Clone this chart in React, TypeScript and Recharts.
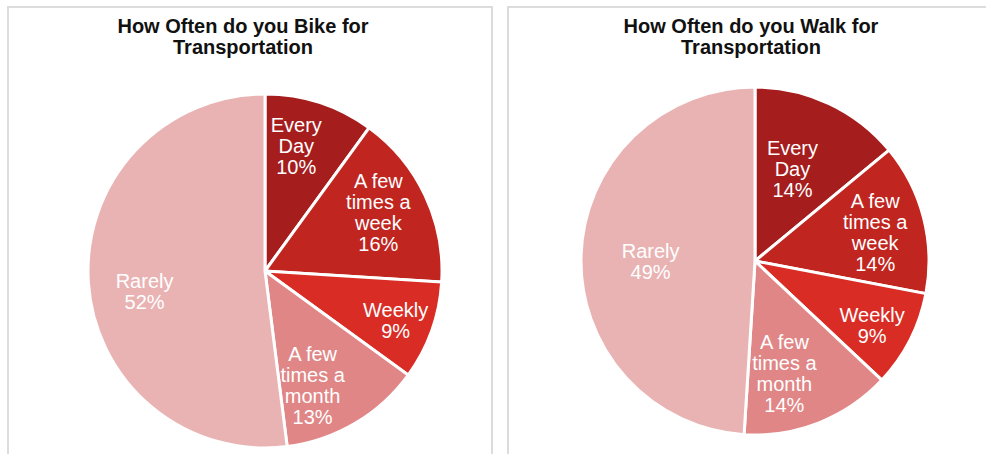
import { PieChart, Pie, Cell } from 'recharts'

const CATEGORIES = ['Every\nDay', 'A few\ntimes a\nweek', 'Weekly', 'A few\ntimes a\nmonth', 'Rarely']
const BIKE_VALUES = [10, 16, 9, 13, 52]
const WALK_VALUES = [14, 14, 9, 14, 49]

const COLORS = ['#a51d1d', '#c0251f', '#d92c25', '#e08686', '#e9b3b3']

// label placement tweaks per slice: [radius ratio, angle shift in degrees (clockwise)]
const BIKE_LABEL_POS = [[0.73, -4], [0.72, -2], [0.79, 1], [0.70, 8], [0.69, -6]]
const WALK_LABEL_POS = [[0.57, -3], [0.71, 1], [0.77, 2], [0.67, 7], [0.6, -2]]

const RADIAN = Math.PI / 180
const FONT = '"Liberation Sans", Arial, sans-serif'

function makeLabel(tweaks: number[][]) {
       return (props: any) => {
              const { cx, cy, midAngle, outerRadius, index, payload } = props
              const [ratio, shift] = tweaks[index]
              const ang = (midAngle - shift) * RADIAN
              const r = outerRadius * ratio
              const x = cx + r * Math.cos(-ang)
              const y = cy + r * Math.sin(-ang)
              const lines = [...payload.name.split('\n'), `${payload.value}%`]
              const lh = 21
              const y0 = y - ((lines.length - 1) * lh) / 2 + 7
              return (
                     <text x={x} y={y0} fill="#fff" textAnchor="middle" fontSize={20} fontFamily={FONT}>
                            {lines.map((l, i) => (
                                   <tspan key={i} x={x} y={y0 + i * lh}>{l}</tspan>
                            ))}
                     </text>
              )
       }
}

function FreqPie({ values, tweaks, cx, cy, r }: { values: number[], tweaks: number[][], cx: number, cy: number, r: number }) {
       const data = CATEGORIES.map((name, i) => ({ name, value: values[i] }))
       return (
              <PieChart width={493} height={454} margin={{ top: 0, right: 0, bottom: 0, left: 0 }} style={{ position: 'absolute', left: 0, top: 0 }}>
                     <Pie
                            data={data}
                            dataKey="value"
                            cx={cx}
                            cy={cy}
                            outerRadius={r}
                            startAngle={90}
                            endAngle={-270}
                            stroke="#fff"
                            strokeWidth={3}
                            label={makeLabel(tweaks)}
                            labelLine={false}
                            isAnimationActive={false}
                     >
                            {data.map((entry, index) => (
                                   <Cell key={`cell-${index}`} fill={COLORS[index % COLORS.length]} />
                            ))}
                     </Pie>
              </PieChart>
       )
}

const titleStyle: any = {
       position: 'absolute', top: 16, width: 400, textAlign: 'center',
       fontFamily: FONT, fontWeight: 700, fontSize: 20, lineHeight: '21px', color: '#111'
}

export default function App() {
       return (
              <div style={{ position: 'absolute', left: 0, top: 0, width: 986, height: 454, overflow: 'hidden', background: '#fff' }}>
                     <div style={{ position: 'absolute', left: 7, top: 6, width: 486, height: 470, border: '2px solid #dcdcdc', boxSizing: 'border-box' }} />
                     <div style={{ position: 'absolute', left: 507, top: 6, width: 500, height: 470, border: '2px solid #dcdcdc', boxSizing: 'border-box' }} />

                     <div style={{ ...titleStyle, left: 243 - 200 }}>How Often do you Bike for<br />Transportation</div>
                     <div style={{ ...titleStyle, left: 751 - 200 }}>How Often do you Walk for<br />Transportation</div>

                     <div style={{ position: 'absolute', left: 0, top: 0, width: 493, height: 454 }}>
                            <FreqPie values={BIKE_VALUES} tweaks={BIKE_LABEL_POS} cx={265} cy={271} r={177} />
                     </div>
                     <div style={{ position: 'absolute', left: 490, top: 0, width: 493, height: 454 }}>
                            <FreqPie values={WALK_VALUES} tweaks={WALK_LABEL_POS} cx={265} cy={261} r={174} />
                     </div>
              </div>
       )
}
